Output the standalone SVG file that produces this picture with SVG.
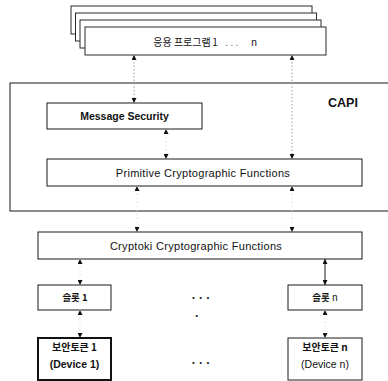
<svg xmlns="http://www.w3.org/2000/svg" width="388" height="381" viewBox="0 0 388 381">
  <style>
    .box { fill: #ffffff; stroke: #1a1a1a; stroke-width: 1; }
    .stack { fill: #ffffff; stroke: #2a2a2a; stroke-width: 1; }
    .heavy { fill: #ffffff; stroke: #111111; stroke-width: 2; }
    .lbl { font-family: "Liberation Sans", "Noto Sans CJK KR", sans-serif; fill: #111111; text-anchor: middle; }
    .kr { font-family: "Noto Sans CJK KR", "Liberation Sans", sans-serif; fill: #111111; text-anchor: middle; }
    .link { stroke: #9a9a9a; stroke-width: 1; stroke-dasharray: 1.5 2; fill: none; marker-start: url(#tip); marker-end: url(#tip); }
    .faint { stroke: #d4d4d4; stroke-width: 1; stroke-dasharray: 1 3; fill: none; marker-start: url(#tip); marker-end: url(#tip); }
    .solid { stroke: #1a1a1a; stroke-width: 1; fill: none; marker-start: url(#tip); marker-end: url(#tip); }
    .dots { font-family: "Liberation Sans", sans-serif; font-size: 12px; font-weight: 700; fill: #222222; text-anchor: middle; }
  </style>
  <defs>
    <marker id="tip" viewBox="0 0 5 5" refX="5" refY="2.5" markerWidth="5" markerHeight="5" markerUnits="userSpaceOnUse" orient="auto-start-reverse">
      <path d="M0,0 L5,2.5 L0,5 z" fill="#111111"/>
    </marker>
  </defs>

  <!-- stacked application boxes, back to front -->
  <g id="apps">
    <rect class="stack" x="71" y="6" width="241" height="28"/>
    <rect class="stack" x="75.5" y="13" width="241" height="28"/>
    <rect class="stack" x="80" y="20" width="241" height="28"/>
    <rect class="stack" x="85" y="27" width="241" height="28"/>
    <text class="kr" font-size="10" y="45.5"><tspan x="182">응용 프로그램</tspan><tspan x="215">1</tspan><tspan x="232" fill="#777777">. . .</tspan><tspan x="254">n</tspan></text>
  </g>

  <!-- CAPI frame (runs past the right edge) -->
  <g id="capi">
    <rect class="box" x="10" y="83" width="390" height="128"/>
    <text class="lbl" x="343" y="107" font-size="12.5" font-weight="700">CAPI</text>
  </g>

  <g id="message-security">
    <rect class="box" x="47" y="103" width="155" height="26"/>
    <text class="lbl" x="124.5" y="120" font-size="10.5" font-weight="700">Message Security</text>
  </g>

  <g id="primitive">
    <rect class="box" x="47" y="159" width="315" height="27"/>
    <text class="lbl" x="203" y="176.5" font-size="11" letter-spacing="0.3">Primitive Cryptographic Functions</text>
  </g>

  <g id="cryptoki">
    <rect class="box" x="38" y="232" width="324" height="27"/>
    <text class="lbl" x="196" y="249.5" font-size="11" letter-spacing="0.3">Cryptoki Cryptographic Functions</text>
  </g>

  <g id="slot-1">
    <rect class="box" x="38" y="285" width="73" height="25"/>
    <text class="kr" x="75" y="301" font-size="9.5" font-weight="700">슬롯 1</text>
  </g>

  <g id="slot-n">
    <rect class="box" x="288" y="285" width="74" height="25"/>
    <text class="kr" x="325" y="301" font-size="9.5"><tspan font-weight="700">슬롯</tspan> n</text>
  </g>

  <g id="device-1">
    <rect class="heavy" x="38" y="338" width="73" height="42"/>
    <text class="kr" x="74.5" y="351" font-size="10" font-weight="700">보안토큰 1</text>
    <text class="lbl" x="74.5" y="368" font-size="10.5" font-weight="700">(Device 1)</text>
  </g>

  <g id="device-n">
    <rect class="box" x="288" y="338" width="74" height="42" stroke-width="1.3"/>
    <text class="kr" x="325" y="351" font-size="10" font-weight="700">보안토큰 n</text>
    <text class="lbl" x="325" y="368" font-size="10.5">(Device n)</text>
  </g>

  <!-- ellipses between the slot columns -->
  <g id="ellipses">
    <text class="dots" x="201" y="302">· · ·</text>
    <text class="dots" x="197" y="320" font-size="9">·</text>
    <text class="dots" x="201" y="367">· · ·</text>
  </g>

  <g id="connectors">
    <line class="link" x1="134" y1="55" x2="134" y2="103"/>
    <line class="link" x1="292" y1="55" x2="292" y2="159"/>
    <line class="faint" x1="166" y1="129" x2="166" y2="159"/>
    <line class="faint" x1="137" y1="186" x2="137" y2="232"/>
    <line class="faint" x1="292" y1="186" x2="292" y2="232"/>
    <line class="faint" x1="80" y1="259" x2="80" y2="285"/>
    <line class="solid" x1="325" y1="259" x2="325" y2="285"/>
    <line class="faint" x1="80" y1="310" x2="80" y2="338"/>
    <line class="faint" x1="325" y1="310" x2="325" y2="338"/>
  </g>
</svg>
